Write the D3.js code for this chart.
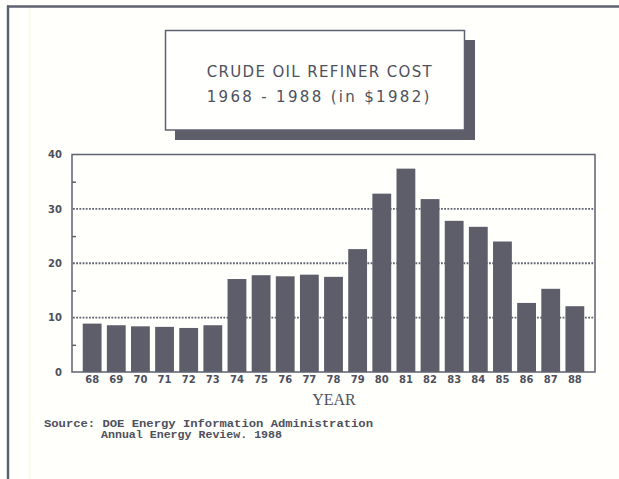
<!DOCTYPE html>
<html>
<head>
<meta charset="utf-8">
<script src="https://cdn.jsdelivr.net/npm/d3@7/dist/d3.min.js"></script>
<style>
html,body{margin:0;padding:0;background:#fffffc;}
svg{display:block;}
</style>
</head>
<body>
<svg id="chart" width="619" height="479"></svg>
<script>
const years = ["68","69","70","71","72","73","74","75","76","77","78","79","80","81","82","83","84","85","86","87","88"];
const costs = [8.9,8.6,8.4,8.3,8.1,8.6,17.1,17.8,17.6,17.9,17.5,22.6,32.8,37.4,31.8,27.8,26.7,24.0,12.7,15.3,12.1];
const yTicks = [0,10,20,30,40];
const yMinorTicks = [5,15,25,35];
const gridValues = [10,20,30];
const titleLines = ["CRUDE OIL REFINER COST","1968 - 1988 (in $1982)"];
const xTitle = "YEAR";
const sourceLines = ["Source: DOE Energy Information Administration","Annual Energy Review. 1988"];

const ink = "#5e6170";
const barColor = "#5d5e6a";
const textColor = "#4e505c";

const svg = d3.select("#chart");

// outer page frame
svg.append("line").attr("x1",7).attr("x2",619).attr("y1",6.5).attr("y2",6.5)
  .attr("stroke",ink).attr("stroke-width",2.5);
svg.append("line").attr("x1",8).attr("x2",8).attr("y1",5.5).attr("y2",479)
  .attr("stroke",ink).attr("stroke-width",2.5);
svg.append("line").attr("x1",30).attr("x2",30).attr("y1",8).attr("y2",479)
  .attr("stroke","#f8f3d8").attr("stroke-width",1);

// title box with shadow
svg.append("rect").attr("x",175).attr("y",40).attr("width",300).attr("height",100).attr("fill",barColor);
svg.append("rect").attr("x",165.5).attr("y",30.5).attr("width",299).attr("height",99.5)
  .attr("fill","#fffffe").attr("stroke",ink).attr("stroke-width",1.5);
const tl = svg.append("g").attr("font-family","'DejaVu Sans', sans-serif").attr("font-size",15)
  .attr("fill",textColor);
tl.append("text").attr("x",206.7).attr("y",77).attr("textLength",225).attr("lengthAdjust","spacing").text(titleLines[0]);
tl.append("text").attr("x",206.7).attr("y",102).attr("textLength",222.7).attr("lengthAdjust","spacing").text(titleLines[1]);

// scales
const x = d3.scaleBand().domain(years).range([72,595]).paddingInner(0.22).paddingOuter(0.445);
const y = d3.scaleLinear().domain([0,40]).range([372,154.5]);

// grid
svg.append("g").selectAll("line").data(gridValues).join("line")
  .attr("x1",73).attr("x2",594).attr("y1",d=>y(d)).attr("y2",d=>y(d))
  .attr("stroke",ink).attr("stroke-width",1.8).attr("stroke-dasharray","1.8,1.4");

// bars
svg.append("g").selectAll("rect").data(costs).join("rect")
  .attr("x",(d,i)=>x(years[i])).attr("width",x.bandwidth())
  .attr("y",d=>y(d)).attr("height",d=>y(0)-y(d))
  .attr("fill",barColor);

// plot frame
svg.append("rect").attr("x",72).attr("y",y(40)).attr("width",523).attr("height",y(0)-y(40))
  .attr("fill","none").attr("stroke",ink).attr("stroke-width",1.5);

// y axis labels
const yAxis = svg.append("g").attr("transform","translate(72,0)")
  .call(d3.axisLeft(y).tickValues(yTicks).tickSize(0).tickPadding(10));
yAxis.select(".domain").remove();
yAxis.selectAll("text").attr("font-family","'DejaVu Sans', sans-serif").attr("font-weight","bold")
  .attr("font-size",10).attr("fill",textColor);

// minor ticks (inward)
const yMinor = svg.append("g").attr("transform","translate(72,0)")
  .call(d3.axisRight(y).tickValues(yMinorTicks).tickSize(4).tickFormat(""));
yMinor.select(".domain").remove();
yMinor.selectAll("line").attr("stroke",ink).attr("stroke-width",1.5);

// x axis labels
const xAxis = svg.append("g").attr("transform",`translate(0,${y(0)})`)
  .call(d3.axisBottom(x).tickSize(0).tickPadding(4));
xAxis.select(".domain").remove();
xAxis.selectAll("text").attr("font-family","'DejaVu Sans', sans-serif").attr("font-weight","bold")
  .attr("font-size",10).attr("fill",textColor);

// x title
svg.append("text").attr("x",334).attr("y",405).attr("text-anchor","middle")
  .attr("font-family","'Liberation Serif', serif").attr("font-size",16).attr("fill",textColor)
  .text(xTitle);

// source
const src = svg.append("g").attr("font-family","'Liberation Mono', monospace").attr("font-weight","bold")
  .attr("font-size",11).attr("fill",textColor);
src.append("text").attr("x",44).attr("y",427).attr("textLength",329).attr("lengthAdjust","spacingAndGlyphs").text(sourceLines[0]);
src.append("text").attr("x",101).attr("y",438).attr("textLength",181).attr("lengthAdjust","spacingAndGlyphs").text(sourceLines[1]);
</script>
</body>
</html>
